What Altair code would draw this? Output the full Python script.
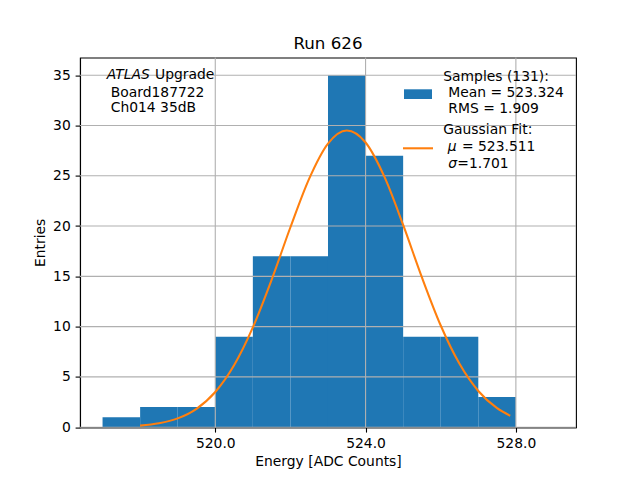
import altair as alt
import pandas as pd

# Histogram (bin edges of width 1 ADC count)
bin_left = [517, 518, 519, 520, 521, 522, 523, 524, 525, 526, 527]
bin_right = [518, 519, 520, 521, 522, 523, 524, 525, 526, 527, 528]
counts = [1, 2, 2, 9, 17, 17, 35, 27, 9, 9, 3]

# Gaussian fit curve
gauss_x = [518.0, 518.5, 519.0, 519.5, 520.0, 520.5, 521.0, 521.5, 522.0, 522.5,
           523.0, 523.5, 524.0, 524.5, 525.0, 525.5, 526.0, 526.5, 527.0, 527.5, 527.85]
gauss_y = [0.155, 0.385, 0.876, 1.83, 3.50, 6.16, 9.92, 14.66, 19.88, 24.72,
           28.20, 29.50, 28.31, 24.91, 20.11, 14.89, 10.11, 6.30, 3.60, 1.89, 1.14]

x_ticks = [520, 524, 528]
y_ticks = [0, 5, 10, 15, 20, 25, 30, 35]

title_text = "Run 626"
x_title = "Energy [ADC Counts]"
y_title = "Entries"
info_lines = ["ATLAS", "Upgrade", "Board187722", "Ch014 35dB"]
legend_lines = ["Samples (131):", "Mean = 523.324", "RMS = 1.909",
                "Gaussian Fit:", "\u03bc", "= 523.511", "\u03c3", "=1.701"]

BLUE = "#1f77b4"
ORANGE = "#ff7f0e"
GRID = "#b0b0b0"
FONT = "DejaVu Sans"
FS = 13.9

hist_df = pd.DataFrame({"left": bin_left, "right": bin_right, "count": counts})
gauss_df = pd.DataFrame({"x": gauss_x, "y": gauss_y})
xt_df = pd.DataFrame({"t": x_ticks})
yt_df = pd.DataFrame({"t": y_ticks})

xscale = alt.Scale(domain=[516.4, 529.6], nice=False, zero=False)
yscale = alt.Scale(domain=[0, 36.75], nice=False)

xaxis = alt.Axis(values=x_ticks, format=".1f", grid=False, title=x_title)
yaxis = alt.Axis(values=y_ticks, grid=False, title=y_title)

bars = alt.Chart(hist_df).mark_rect(color=BLUE).encode(
    x=alt.X("left:Q", scale=xscale, axis=xaxis),
    x2="right:Q",
    y=alt.Y("count:Q", scale=yscale, axis=yaxis),
    y2=alt.datum(0),
)

vgrid = alt.Chart(xt_df).mark_rule(color=GRID, strokeWidth=1.1).encode(
    x=alt.X("t:Q", scale=xscale)
)
hgrid = alt.Chart(yt_df).mark_rule(color=GRID, strokeWidth=1.1).encode(
    y=alt.Y("t:Q", scale=yscale)
)

line = alt.Chart(gauss_df).mark_line(color=ORANGE, strokeWidth=2.08, interpolate="monotone").encode(
    x=alt.X("x:Q", scale=xscale),
    y=alt.Y("y:Q", scale=yscale),
)

OX, OY = 80.0, 57.6  # plot origin on the page


def label(text, px, py, italic=False, size=FS, align="left"):
    return alt.Chart(alt.Data(values=[{}])).mark_text(
        text=text, align=align, baseline="alphabetic", font=FONT, fontSize=size,
        color="black", fontStyle="italic" if italic else "normal",
    ).encode(x=alt.value(px - OX), y=alt.value(py - OY))


texts = [
    label(title_text, 328, 49, size=16.7, align="center"),
    label(info_lines[0], 106.7, 79, italic=True),
    label(info_lines[1], 155.0, 79),
    label(info_lines[2], 110.7, 96.7),
    label(info_lines[3], 110.7, 112.3),
    label(legend_lines[0], 443.3, 81),
    label(legend_lines[1], 448.3, 97),
    label(legend_lines[2], 448.3, 112.7),
    label(legend_lines[3], 443.3, 134),
    label(legend_lines[4], 447.7, 151, italic=True),
    label(legend_lines[5], 462.0, 151),
    label(legend_lines[6], 448.3, 168, italic=True),
    label(legend_lines[7], 457.3, 168),
]

patch = alt.Chart(alt.Data(values=[{}])).mark_rect(color=BLUE).encode(
    x=alt.value(404 - OX), x2=alt.value(432 - OX),
    y=alt.value(89.3 - OY), y2=alt.value(99 - OY),
)
leg_line = alt.Chart(alt.Data(values=[{}])).mark_rule(color=ORANGE, strokeWidth=2.08).encode(
    x=alt.value(403 - OX), x2=alt.value(433 - OX), y=alt.value(148.3 - OY),
)

chart = alt.layer(bars, vgrid, hgrid, line, patch, leg_line, *texts).properties(
    width=496,
    height=369.6,
    autosize=alt.AutoSizeParams(type="none"),
    padding={"left": 72, "top": 49.6, "right": 56, "bottom": 44.5},
).configure_view(
    stroke="black", strokeWidth=1.1
).configure_axis(
    labelFont=FONT, labelFontSize=FS, labelColor="black",
    titleFont=FONT, titleFontSize=FS, titleFontWeight="normal", titleColor="black",
    tickColor="black", tickSize=4.9, tickWidth=1.1,
    domainColor="black", domainWidth=1.1, labelPadding=4.9,
).configure_axisX(titlePadding=4).configure_axisY(titlePadding=5)

chart.save("out.html", embed_options={"renderer": "svg", "actions": False})
